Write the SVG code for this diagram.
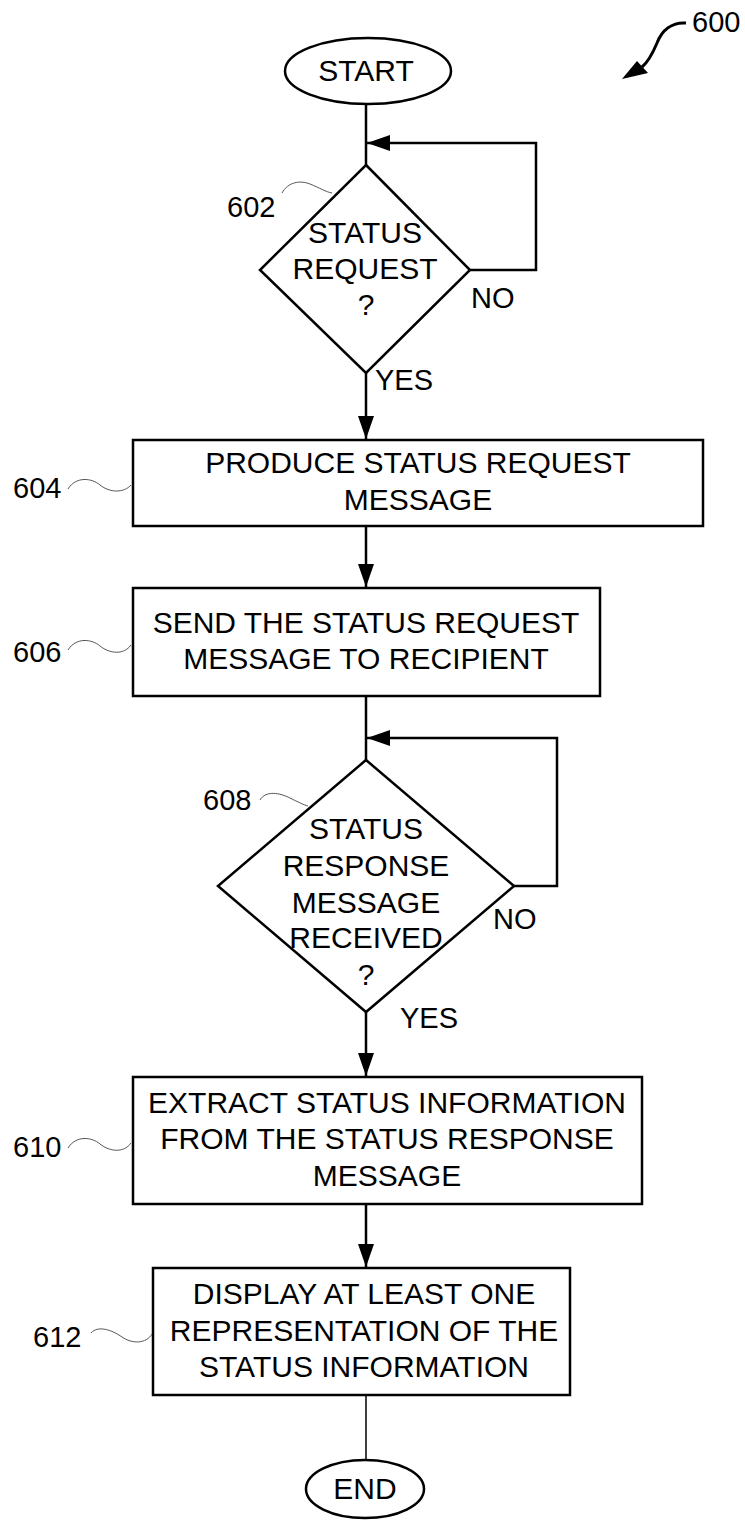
<svg xmlns="http://www.w3.org/2000/svg" width="745" height="1520" viewBox="0 0 745 1520">
<style>
  .shape { fill: #fff; stroke: #000; stroke-width: 2.5; }
  .conn { fill: none; stroke: #000; stroke-width: 2.5; }
  .thin { fill: none; stroke: #000; stroke-width: 1.5; }
  .lead { fill: none; stroke: #555; stroke-width: 1; }
  text { font-family: "Liberation Sans", Arial, sans-serif; fill: #000; }
  .t { font-size: 30px; text-anchor: middle; }
  .lbl { font-size: 29px; }
</style>
<defs>
  <marker id="ah" markerUnits="userSpaceOnUse" markerWidth="24" markerHeight="18" refX="23" refY="8" orient="auto">
    <path d="M0,0 L23,8 L0,16 Z" fill="#000"/>
  </marker>
</defs>
<rect width="745" height="1520" fill="#fff"/>

<g id="connectors">
  <line class="conn" x1="366" y1="104" x2="366" y2="165"/>
  <polyline class="conn" points="470,270 536,270 536,143 367,143" marker-end="url(#ah)"/>
  <line class="conn" x1="366" y1="373" x2="366" y2="439" marker-end="url(#ah)"/>
  <line class="conn" x1="366" y1="526" x2="366" y2="587" marker-end="url(#ah)"/>
  <line class="conn" x1="366" y1="696" x2="366" y2="760"/>
  <polyline class="conn" points="514,886 557,886 557,738 367,738" marker-end="url(#ah)"/>
  <line class="conn" x1="366" y1="1012" x2="366" y2="1076" marker-end="url(#ah)"/>
  <line class="conn" x1="366" y1="1204" x2="366" y2="1267" marker-end="url(#ah)"/>
  <line class="thin" x1="366" y1="1395" x2="366" y2="1460"/>
</g>

<g id="ref600">
  <text class="lbl" x="692" y="32" font-size="28">600</text>
  <path d="M686,23 C672,22 662,30 657,43 C652,55 648,62 642,67" fill="none" stroke="#000" stroke-width="3"/>
  <polygon points="622,79 637,61 648,73" fill="#000"/>
</g>

<g id="start">
  <ellipse class="shape" cx="368" cy="71" rx="83" ry="33"/>
  <text class="t" x="366" y="81" font-size="29">START</text>
</g>

<g id="n602">
  <polygon class="shape" points="366,165 470,270 366,373 260,270"/>
  <text class="t" x="365" y="243">STATUS</text>
  <text class="t" x="365" y="279">REQUEST</text>
  <text class="t" x="366" y="315">?</text>
  <text class="lbl" x="227" y="217">602</text>
  <path class="lead" d="M282,193 C288,182 300,180 310,184 C320,188 326,192 332,193"/>
  <text class="lbl" x="471" y="308">NO</text>
  <text class="lbl" x="375" y="390">YES</text>
</g>

<g id="n604">
  <rect class="shape" x="133" y="440" width="570" height="86"/>
  <text class="t" x="418" y="473">PRODUCE STATUS REQUEST</text>
  <text class="t" x="418" y="510">MESSAGE</text>
  <text class="lbl" x="13" y="498">604</text>
  <path class="lead" d="M68,489 C76,476 92,478 100,485 C110,493 124,493 131,485"/>
</g>

<g id="n606">
  <rect class="shape" x="133" y="588" width="467" height="108"/>
  <text class="t" x="366" y="633">SEND THE STATUS REQUEST</text>
  <text class="t" x="366" y="669">MESSAGE TO RECIPIENT</text>
  <text class="lbl" x="13" y="662">606</text>
  <path class="lead" d="M68,650 C76,637 92,639 100,646 C110,654 124,655 131,645"/>
</g>

<g id="n608">
  <polygon class="shape" points="366,760 514,886 366,1012 218,886"/>
  <text class="t" x="366" y="839">STATUS</text>
  <text class="t" x="366" y="876">RESPONSE</text>
  <text class="t" x="366" y="913">MESSAGE</text>
  <text class="t" x="366" y="948">RECEIVED</text>
  <text class="t" x="366" y="985">?</text>
  <text class="lbl" x="203" y="810">608</text>
  <path class="lead" d="M260,800 C266,790 280,793 290,798 C298,802 304,805 308,806"/>
  <text class="lbl" x="493" y="929">NO</text>
  <text class="lbl" x="400" y="1028">YES</text>
</g>

<g id="n610">
  <rect class="shape" x="133" y="1077" width="509" height="127"/>
  <text class="t" x="387" y="1113">EXTRACT STATUS INFORMATION</text>
  <text class="t" x="387" y="1149">FROM THE STATUS RESPONSE</text>
  <text class="t" x="387" y="1186">MESSAGE</text>
  <text class="lbl" x="13" y="1157">610</text>
  <path class="lead" d="M68,1148 C76,1135 92,1137 100,1144 C110,1152 124,1153 131,1143"/>
</g>

<g id="n612">
  <rect class="shape" x="153" y="1268" width="417" height="127"/>
  <text class="t" x="364" y="1304">DISPLAY AT LEAST ONE</text>
  <text class="t" x="364" y="1341">REPRESENTATION OF THE</text>
  <text class="t" x="364" y="1377">STATUS INFORMATION</text>
  <text class="lbl" x="33" y="1347">612</text>
  <path class="lead" d="M91,1333 C98,1325 112,1330 122,1337 C132,1344 146,1344 152,1334"/>
</g>

<g id="end">
  <ellipse class="shape" cx="365" cy="1489" rx="59" ry="29"/>
  <text class="t" x="365" y="1499" font-size="29">END</text>
</g>
</svg>
